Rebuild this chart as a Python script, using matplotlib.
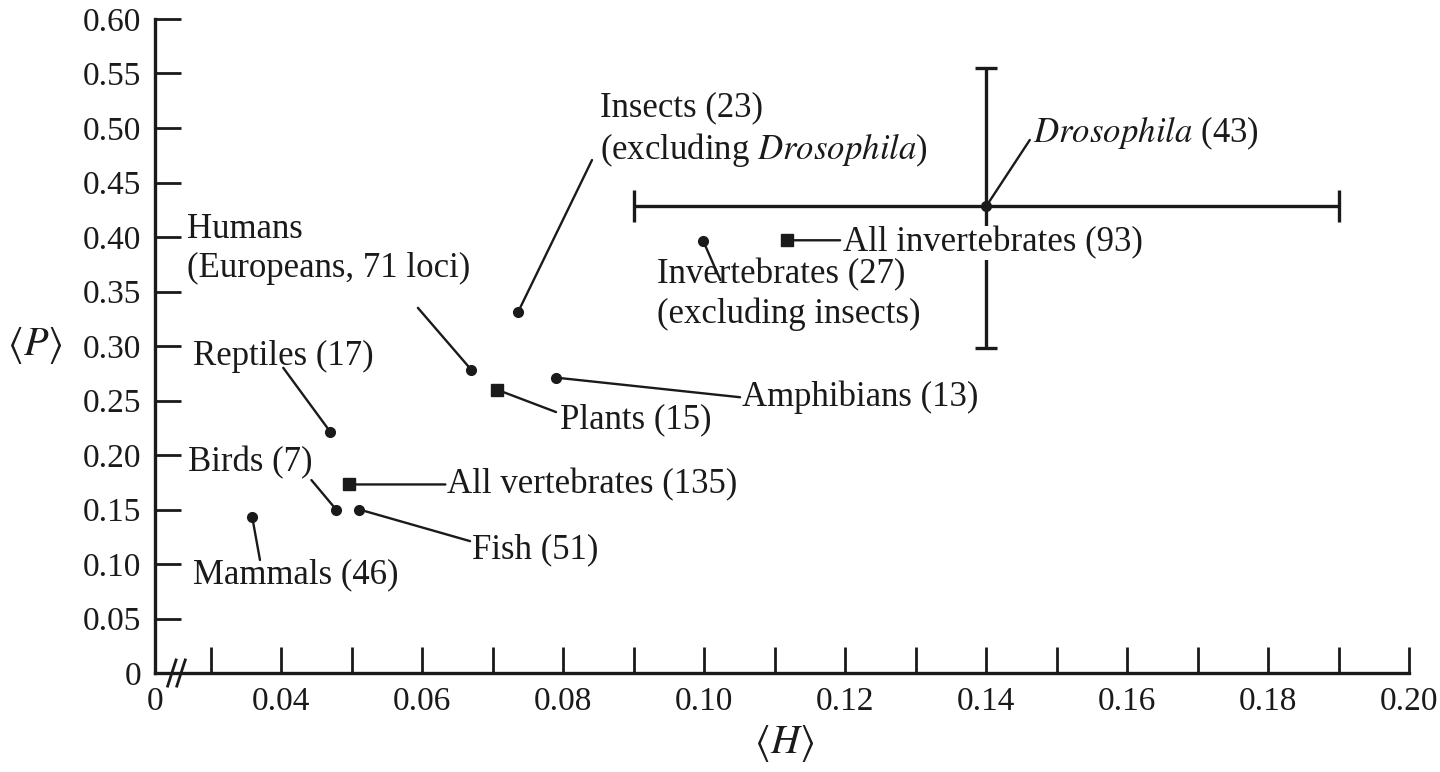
import numpy as np
import matplotlib.pyplot as plt

plt.rcParams['font.family'] = ['Liberation Serif', 'DejaVu Serif']

# ---- data: mean heterozygosity <H> vs polymorphism <P> ----
names = ['Insects (23)\n(excluding $\\mathit{Drosophila}$)',
         '$\\mathit{Drosophila}$ (43)',
         'Invertebrates (27)\n(excluding insects)',
         'All invertebrates (93)',
         'Humans\n(Europeans, 71 loci)',
         'Reptiles (17)',
         'Amphibians (13)',
         'Plants (15)',
         'Birds (7)',
         'All vertebrates (135)',
         'Fish (51)',
         'Mammals (46)']
H = [0.0736, 0.140, 0.0999, 0.1118, 0.067, 0.047, 0.079, 0.0706, 0.0478, 0.0496, 0.0511, 0.0359]
P = [0.331, 0.428, 0.396, 0.397, 0.278, 0.221, 0.271, 0.260, 0.150, 0.173, 0.150, 0.143]
is_group = [False, False, False, True, False, False, False, True, False, True, False, False]

# Drosophila spread
dros_xerr = [[0.050], [0.050]]
dros_yerr = [[0.130], [0.127]]

# label anchor (left, centre) and leader-line end, in data units
label_xy = [(0.0852, 0.498), (0.1467, 0.4954), (0.0933, 0.3475), (0.1197, 0.3945),
            (0.0267, 0.389), (0.0275, 0.290), (0.1054, 0.253), (0.0796, 0.232),
            (0.0268, 0.1927), (0.0635, 0.173), (0.0671, 0.113), (0.0275, 0.090)]
leader_xy = [(0.0841, 0.4706), (0.1462, 0.489), (0.1023, 0.3606), (0.1193, 0.397),
             (0.0594, 0.335), (0.0403, 0.280), (0.1051, 0.253), (0.0790, 0.2394),
             (0.0443, 0.177), (0.0633, 0.173), (0.0668, 0.121), (0.0370, 0.1037)]

x_ticks = np.round(np.arange(0.03, 0.201, 0.01), 2)
y_ticks = np.round(np.arange(0.0, 0.601, 0.05), 2)
x_left = 0.0221

ink = '#1a1a1a'
fig = plt.figure(figsize=(14.4, 7.72), dpi=100)
ax = fig.add_axes([0.1076, 0.1282, 0.8709, 0.8472])

# error bars on Drosophila
ax.errorbar([H[1]], [P[1]], xerr=dros_xerr, fmt='none',
            ecolor=ink, elinewidth=2.4, capsize=11.5, capthick=2.4, zorder=2)
ax.errorbar([H[1]], [P[1]], yerr=dros_yerr, fmt='none',
            ecolor=ink, elinewidth=2.4, capsize=8, capthick=2.4, zorder=2)

for i in range(len(names)):
    ax.plot(H[i], P[i], marker='s' if is_group[i] else 'o',
            markersize=8.5 if is_group[i] else 7, color=ink, zorder=4)
    ax.annotate('', xy=(H[i], P[i]), xytext=leader_xy[i],
                arrowprops=dict(arrowstyle='-', color=ink, lw=1.7,
                                shrinkA=0, shrinkB=0), zorder=3)
    bbox = None
    z = 6
    if i == 3:
        # white backing breaks the vertical error bar behind this label
        bbox = dict(facecolor='white', edgecolor='none', pad=0.5)
        z = 5
    ax.text(label_xy[i][0], label_xy[i][1], names[i], ha='left', va='center',
            fontsize=25, color=ink, linespacing=1.25, math_fontfamily='stix',
            bbox=bbox, zorder=z)

ax.set_xlim(x_left, 0.20)
ax.set_ylim(0, 0.60)

xt = [x_left] + list(x_ticks)
xl = ['0'] + [f'{v:.2f}' if round(v * 100) % 2 == 0 else '' for v in x_ticks]
ax.set_xticks(xt)
ax.set_xticklabels(xl)
ax.set_yticks(y_ticks)
ax.set_yticklabels(['0'] + [f'{v:.2f}' for v in y_ticks[1:]])

ax.tick_params(axis='both', direction='in', length=19, width=2, color=ink,
               labelsize=24, labelcolor=ink, pad=10)
ax.xaxis.get_major_ticks()[0].tick1line.set_visible(False)
ax.yaxis.get_major_ticks()[0].tick1line.set_visible(False)

for s in ['top', 'right']:
    ax.spines[s].set_visible(False)
for s in ['left', 'bottom']:
    ax.spines[s].set_linewidth(2.4)
    ax.spines[s].set_color(ink)

# axis break marks
for dx in (0.0245, 0.0258):
    ax.plot([dx - 0.0006, dx + 0.0006], [-0.012, 0.012], color=ink, lw=2,
            clip_on=False, zorder=6)

ax.set_xlabel(r'$\langle H\rangle$', fontsize=29, color=ink, math_fontfamily='stix')
ax.set_ylabel(r'$\langle P\rangle$', fontsize=29, color=ink, rotation=0,
              math_fontfamily='stix')
ax.xaxis.set_label_coords(0.502, -0.107)
ax.xaxis.label.set_verticalalignment('center')
ax.yaxis.set_label_coords(-0.0957, 0.502)
ax.yaxis.label.set_verticalalignment('center')

fig.savefig('out.png', dpi=100, facecolor='white')
